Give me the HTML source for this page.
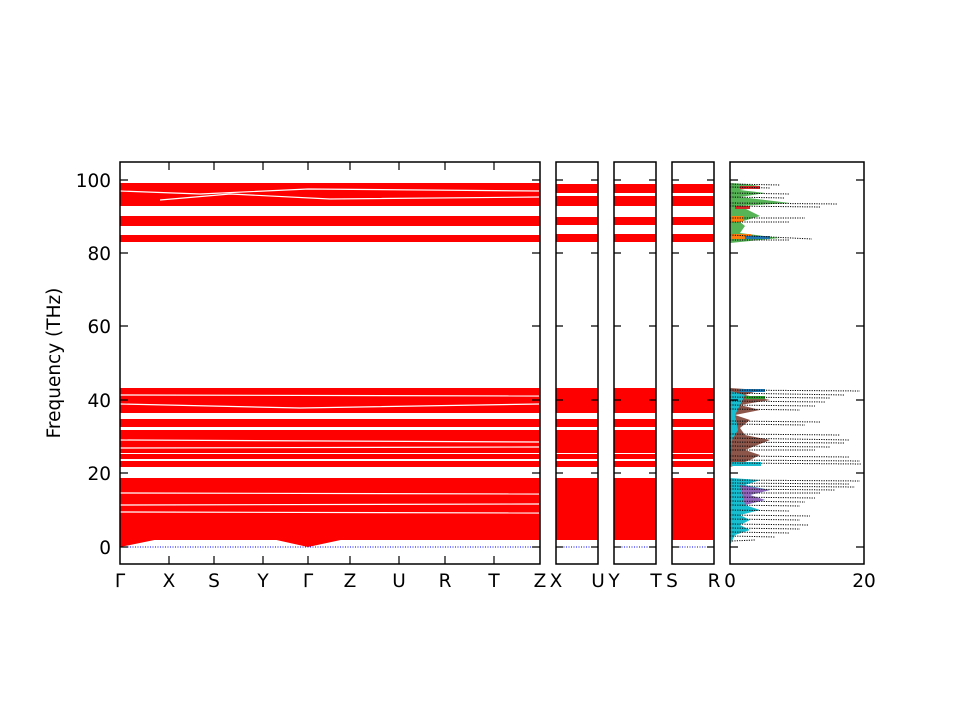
<!DOCTYPE html>
<html><head><style>body{margin:0;background:#fff}svg{display:block}text{font-family:"DejaVu Sans","Liberation Sans",sans-serif;font-size:18.5px;fill:#000}</style></head><body>
<svg width="960" height="720" xmlns="http://www.w3.org/2000/svg">
<defs>
<g id="bands">
<rect x="0" y="388" width="1" height="25" fill="red"/>
<rect x="0" y="419" width="1" height="8" fill="red"/>
<rect x="0" y="430" width="1" height="23" fill="red"/>
<rect x="0" y="454" width="1" height="5" fill="red"/>
<rect x="0" y="461" width="1" height="6" fill="red"/>
<rect x="0" y="478" width="1" height="62" fill="red"/>
</g>
<g id="top">
<rect x="0" y="184" width="1" height="9" fill="red"/>
<rect x="0" y="196" width="1" height="10" fill="red"/>
<rect x="0" y="217" width="1" height="8" fill="red"/>
<rect x="0" y="234" width="1" height="8" fill="red"/>
</g>
</defs>
<!-- main panel -->
<g>
<use href="#bands" transform="translate(120,0) scale(420,1)"/>
<rect x="120" y="183" width="420" height="23" fill="red"/>
<rect x="120" y="216" width="420" height="10" fill="red"/>
<rect x="120" y="235" width="420" height="7" fill="red"/>
<polygon points="120,547 169,537 214,534 263,537 308,547 350,538 399,536 445,537 494,538 540,540 540,530 120,530" fill="red"/>
<g stroke="#fff" stroke-width="1.2" fill="none">
<path d="M120,191 L200,194 L308,189 L540,191"/><path d="M160,200 L230,194 L330,199 L540,197"/>
<path d="M120,211 L540,211"/><path d="M120,230 L540,230"/>
<path d="M120,395 L540,396"/><path d="M120,404 L300,408 L540,404"/><path d="M120,440 L540,442"/>
<path d="M120,448 L540,447"/><path d="M120,493 L540,494"/><path d="M120,512 L540,513"/><path d="M120,505 L540,504"/>
</g>
<line x1="120" y1="547" x2="540" y2="547" stroke="blue" stroke-dasharray="1,1.5"/>
<rect x="120" y="162" width="420" height="402" fill="none" stroke="#000" stroke-width="1.5"/>
</g>
<!-- small panels -->
<g>
<use href="#bands" transform="translate(556,0) scale(42,1)"/>
<use href="#top" transform="translate(556,0) scale(42,1)"/>
<rect x="556" y="530" width="42" height="10" fill="red"/>
<line x1="556" y1="547" x2="598" y2="547" stroke="blue" stroke-dasharray="1,1.5"/>
<rect x="556" y="162" width="42" height="402" fill="none" stroke="#000" stroke-width="1.5"/>
<use href="#bands" transform="translate(614,0) scale(42,1)"/>
<use href="#top" transform="translate(614,0) scale(42,1)"/>
<rect x="614" y="530" width="42" height="10" fill="red"/>
<line x1="614" y1="547" x2="656" y2="547" stroke="blue" stroke-dasharray="1,1.5"/>
<rect x="614" y="162" width="42" height="402" fill="none" stroke="#000" stroke-width="1.5"/>
<use href="#bands" transform="translate(672,0) scale(42,1)"/>
<use href="#top" transform="translate(672,0) scale(42,1)"/>
<rect x="672" y="530" width="42" height="8" fill="red"/>
<line x1="672" y1="547" x2="714" y2="547" stroke="blue" stroke-dasharray="1,1.5"/>
<rect x="672" y="162" width="42" height="402" fill="none" stroke="#000" stroke-width="1.5"/>
</g>
<!-- DOS -->
<g>
<polygon points="730,183 745,184 760,186 740,190 765,193 740,197 790,203 740,206 760,216 740,222 745,226 740,233 780,238 740,242 730,243" fill="#2ca02c" opacity="0.8"/>
<rect x="731" y="216" width="12" height="6" fill="#ff7f0e"/>
<rect x="731" y="234" width="20" height="5" fill="#ff7f0e"/>
<rect x="735" y="206" width="15" height="3" fill="#d62728"/>
<rect x="740" y="186" width="20" height="3" fill="#d62728"/>
<rect x="745" y="236" width="25" height="3" fill="#1f77b4"/>
<polygon points="730,388 760,390 745,395 770,400 740,405 760,410 735,415 750,420 740,428 745,435 770,440 745,450 760,455 750,460 740,464 730,467" fill="#8c564b"/>
<polygon points="730,391 745,395 740,405 735,415 738,430 732,440 730,460" fill="#17becf"/>
<rect x="731" y="462" width="30" height="4" fill="#17becf"/>
<rect x="740" y="389" width="25" height="3" fill="#1f77b4"/>
<rect x="745" y="396" width="20" height="3" fill="#2ca02c"/>
<polygon points="730,478 760,480 745,485 770,490 750,495 765,500 745,505 760,510 740,515 750,520 740,525 750,530 735,535 730,545" fill="#17becf"/>
<polygon points="740,485 770,490 750,495 765,500 745,505" fill="#9467bd"/>
<g stroke="#000" stroke-width="1" stroke-dasharray="1.2,1.2" fill="none">
<path d="M730,184 L780,185 M730,187 L770,188 M730,193 L790,194 M730,197 L785,198 M730,203 L838,204 M730,206 L820,207 M730,218 L805,218 M730,222 L790,222 M730,235 L812,239 M730,240 L790,240"/>
<path d="M730,390 L860,391 M730,393 L845,395 M730,397 L830,398 M730,401 L825,402 M730,405 L815,406 M730,409 L800,410 M730,421 L820,422 M730,424 L805,425 M730,434 L840,435 M730,438 L850,440 M730,442 L845,443 M730,446 L830,447 M730,450 L815,450 M730,456 L850,457 M730,460 L860,461 M730,463 L862,464"/>
<path d="M730,480 L860,481 M730,483 L850,484 M730,486 L855,487 M730,489 L835,490 M730,493 L820,493 M730,497 L815,498 M730,501 L805,502 M730,505 L800,506 M730,510 L790,511 M730,515 L810,516 M730,519 L800,520 M730,524 L808,525 M730,528 L800,529 M730,532 L790,533 M730,536 L775,537 M732,541 L755,540"/>
</g>
<rect x="730" y="162" width="134" height="402" fill="none" stroke="#000" stroke-width="1.5"/>
</g>
<!-- ticks -->
<g stroke="#000" stroke-width="1.2">
<path d="M120,180h8M120,253h8M120,326h8M120,400h8M120,473h8M120,547h8M540,180h-8M540,253h-8M540,326h-8M540,400h-8M540,473h-8M540,547h-8"/>
<path d="M556,180h7M556,253h7M556,326h7M556,400h7M556,473h7M556,547h7M598,180h-7M598,253h-7M598,326h-7M598,400h-7M598,473h-7M598,547h-7"/>
<path d="M614,180h7M614,253h7M614,326h7M614,400h7M614,473h7M614,547h7M656,180h-7M656,253h-7M656,326h-7M656,400h-7M656,473h-7M656,547h-7"/>
<path d="M672,180h7M672,253h7M672,326h7M672,400h7M672,473h7M672,547h7M714,180h-7M714,253h-7M714,326h-7M714,400h-7M714,473h-7M714,547h-7"/>
<path d="M730,180h8M730,253h8M730,326h8M730,400h8M730,473h8M730,547h8M864,180h-8M864,253h-8M864,326h-8M864,400h-8M864,473h-8M864,547h-8"/>
<path d="M169,564v-8M214,564v-8M263,564v-8M308,564v-8M350,564v-8M399,564v-8M445,564v-8M494,564v-8M169,162v8M214,162v8M263,162v8M308,162v8M350,162v8M399,162v8M445,162v8M494,162v8"/>
</g>
<g text-anchor="end">
<text x="111" y="187">100</text><text x="111" y="260">80</text><text x="111" y="333">60</text><text x="111" y="407">40</text><text x="111" y="480">20</text><text x="111" y="554">0</text>
</g>
<g text-anchor="middle">
<text x="120" y="587">Γ</text><text x="169" y="587">X</text><text x="214" y="587">S</text><text x="263" y="587">Y</text><text x="308" y="587">Γ</text><text x="350" y="587">Z</text><text x="399" y="587">U</text><text x="445" y="587">R</text><text x="494" y="587">T</text><text x="540" y="587">Z</text>
<text x="556" y="587">X</text><text x="598" y="587">U</text><text x="614" y="587">Y</text><text x="656" y="587">T</text><text x="672" y="587">S</text><text x="714" y="587">R</text>
<text x="730" y="587">0</text><text x="864" y="587">20</text>
</g>
<text transform="translate(60,363) rotate(-90)" text-anchor="middle">Frequency (THz)</text>
</svg>
</body></html>
